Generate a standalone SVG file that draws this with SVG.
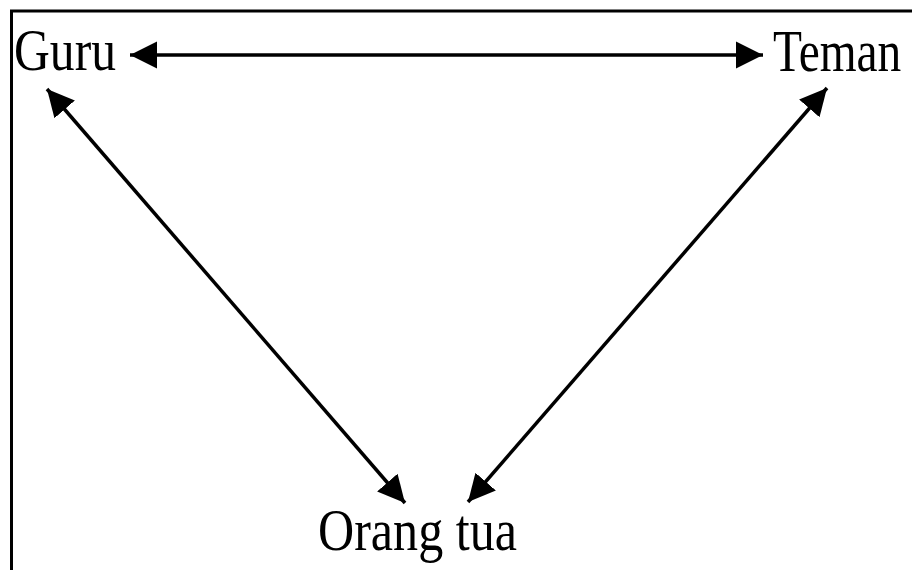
<svg xmlns="http://www.w3.org/2000/svg" width="913" height="570" viewBox="0 0 913 570">
<style>
.lbl{font-family:"Liberation Serif","Times New Roman",serif;font-size:60px;fill:#000}
.c{stroke:#000;stroke-width:3.5;fill:none}
</style>
<defs>
<marker id="ah" viewBox="0 0 10 10" refX="10" refY="5" markerUnits="userSpaceOnUse" markerWidth="27" markerHeight="29" orient="auto-start-reverse">
<path d="M0,0 L10,5 L0,10 z" fill="#000"/>
</marker>
</defs>
<rect x="0" y="0" width="913" height="570" fill="#fff"/>
<path d="M11.5,570 V11 H912" fill="none" stroke="#000" stroke-width="3"/>
<g id="guru"><text class="lbl" transform="translate(14,70) scale(0.827,1)">Guru</text></g>
<g id="teman"><text class="lbl" transform="translate(773,71) scale(0.79,1)">Teman</text></g>
<g id="orangtua"><text class="lbl" transform="translate(318,550) scale(0.835,1)">Orang tua</text></g>
<g id="connectors">
<line class="c" x1="130" y1="55" x2="763" y2="55" marker-start="url(#ah)" marker-end="url(#ah)"/>
<line class="c" x1="47" y1="89" x2="405" y2="503" marker-start="url(#ah)" marker-end="url(#ah)"/>
<line class="c" x1="827" y1="88" x2="468" y2="502" marker-start="url(#ah)" marker-end="url(#ah)"/>
</g>
</svg>
